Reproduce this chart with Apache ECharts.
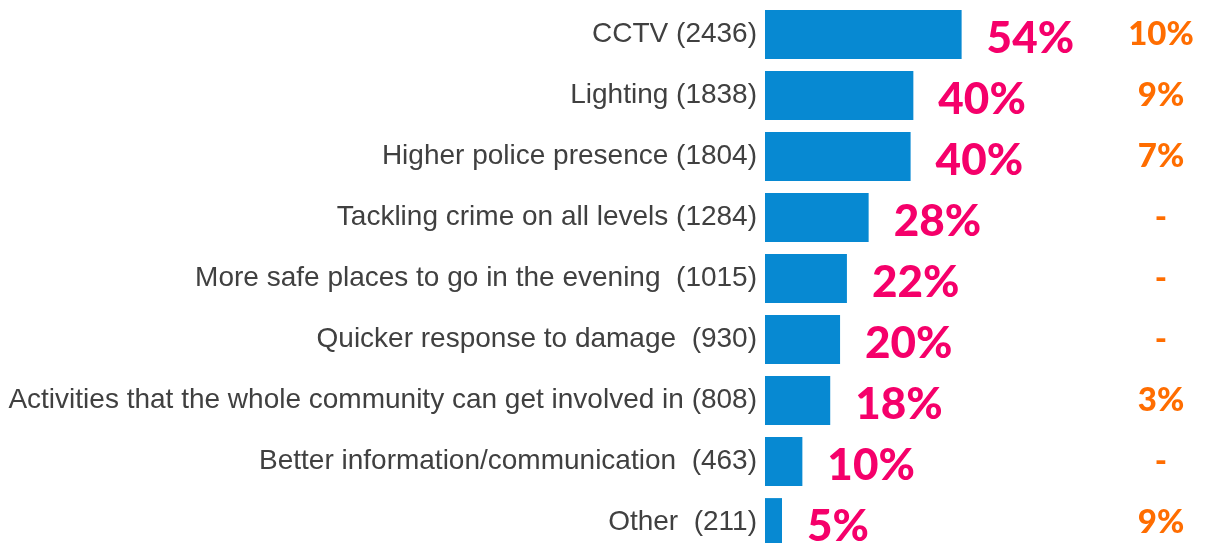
<!DOCTYPE html>
<html>
<head>
<meta charset="utf-8">
<style>
  html, body { margin: 0; padding: 0; background: #fff; overflow: hidden; }
  #chart { width: 1217px; height: 553px; }
</style>
<script src="https://cdn.jsdelivr.net/npm/echarts@6/dist/echarts.min.js"></script>
</head>
<body>
<div id="chart"></div>
<script>
const categories = [
  'CCTV',
  'Lighting',
  'Higher police presence',
  'Tackling crime on all levels',
  'More safe places to go in the evening ',
  'Quicker response to damage ',
  'Activities that the whole community can get involved in',
  'Better information/communication ',
  'Other '
]
const counts = [2436, 1838, 1804, 1284, 1015, 930, 808, 463, 211]
const shares = ['54%', '40%', '40%', '28%', '22%', '20%', '18%', '10%', '5%']
const otherShares = ['10%', '9%', '7%', '-', '-', '-', '3%', '-', '9%']

const labels = categories.map((c, i) => c + ' (' + counts[i] + ')')

// the last row is cut off by the window, so the chart box runs a bit below it
const chart = echarts.init(document.getElementById('chart'))
chart.setOption({
  animation: false,
  grid: {
    left: 765,
    right: 0,
    top: 4,
    bottom: 0
  },
  xAxis: {
    type: 'value',
    min: 0,
    max: 5600,
    show: false
  },
  yAxis: [
    {
      type: 'category',
      data: labels,
      inverse: true,
      axisLine: { show: false },
      axisTick: { show: false },
      axisLabel: {
        margin: 8,
        fontFamily: 'Liberation Sans, Arial, sans-serif',
        fontSize: 28,
        color: '#404040'
      }
    },
    {
      type: 'category',
      data: otherShares,
      inverse: true,
      position: 'right',
      offset: -56,
      axisLine: { show: false },
      axisTick: { show: false },
      axisLabel: {
        margin: 0,
        align: 'center',
        fontFamily: 'Lato, sans-serif',
        fontWeight: 900,
        fontSize: 33,
        color: '#FF6D00'
      }
    }
  ],
  series: [
    {
      type: 'bar',
      data: counts,
      barCategoryGap: '20%',
      itemStyle: { color: '#0789D2' },
      label: {
        show: true,
        position: 'right',
        distance: 25,
        offset: [0, 4],
        formatter: p => shares[p.dataIndex],
        fontFamily: 'Lato, sans-serif',
        fontWeight: 900,
        fontSize: 44,
        color: '#F5006A'
      }
    }
  ]
})
</script>
</body>
</html>
